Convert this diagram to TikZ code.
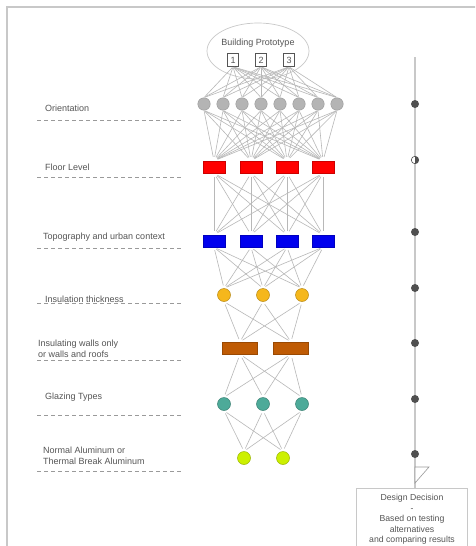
\documentclass[tikz,border=0pt]{standalone}
\usepackage{fontspec}
\setmainfont{Liberation Sans}
\usetikzlibrary{shapes.geometric}
\definecolor{framegray}{HTML}{C8C8C8}
\definecolor{linegray}{HTML}{B8B8B8}
\definecolor{txtgray}{HTML}{555555}
\definecolor{dashgray}{HTML}{9A9A9A}
\definecolor{dotgray}{HTML}{B4B4B4}
\definecolor{darkdot}{HTML}{4F4F4F}
\definecolor{redf}{HTML}{FF0000}
\definecolor{bluef}{HTML}{0000EE}
\definecolor{orangef}{HTML}{F5B71C}
\definecolor{brownf}{HTML}{BF5B04}
\definecolor{tealf}{HTML}{4DAA99}
\definecolor{limef}{HTML}{CCF000}
\tikzset{
  lbl/.style={font=\fontsize{9}{10.5}\selectfont, text=txtgray, align=left, inner sep=0pt, anchor=west},
  conn/.style={draw=linegray, line width=0.6pt, shorten <=1pt, shorten >=1pt},
  dashline/.style={draw=dashgray, line width=0.7pt, dash pattern=on 4pt off 3pt},
  gdot/.style={circle, fill=dotgray, draw=dotgray!85!black, line width=0.4pt, minimum size=12.5pt, inner sep=0pt},
  cdot/.style={circle, draw=#1!75!black, fill=#1, line width=0.5pt, minimum size=13pt, inner sep=0pt},
  rbox/.style={rectangle, draw=#1!80!black, fill=#1, line width=0.4pt, minimum width=22pt, minimum height=12pt, inner sep=0pt},
  numbox/.style={rectangle, draw=txtgray, line width=0.6pt, minimum width=11pt, minimum height=13pt, inner sep=0pt, font=\fontsize{9}{10}\selectfont, text=txtgray},
  tdot/.style={circle, fill=darkdot, minimum size=8pt, inner sep=0pt},
}
\begin{document}
\begin{tikzpicture}[x=1pt, y=-1pt]
\useasboundingbox (0,0) rectangle (475,546);
\clip (0,0) rectangle (475,546);
\fill[white] (0,0) rectangle (475,546);
% frame
\draw[framegray, line width=2pt] (7,548) -- (7,7) -- (477,7);

% prototype ellipse
\node[ellipse, draw=framegray, line width=0.7pt, minimum width=102pt, minimum height=56pt] (proto) at (258,51) {};
\node[font=\fontsize{9}{10}\selectfont, text=txtgray, inner sep=0pt] (ptitle) at (258,43) {Building Prototype};
\node[numbox] (b1) at (233,60) {1};
\node[numbox] (b2) at (261,60) {2};
\node[numbox] (b3) at (289,60) {3};

% grey circles
\foreach \i in {1,...,8} {
  \node[gdot] (g\i) at ({204+19*(\i-1)},104) {};
}
% red and blue
\foreach \i/\x in {1/214,2/251,3/287,4/323} {
  \node[rbox=redf] (r\i) at (\x,167) {};
  \node[rbox=bluef] (u\i) at (\x,241) {};
}
% orange, teal
\foreach \i/\x in {1/224,2/263,3/302} {
  \node[cdot=orangef] (o\i) at (\x,295) {};
  \node[cdot=tealf] (t\i) at (\x,404) {};
}
% brown
\node[rbox=brownf, minimum width=35pt] (w1) at (240,348) {};
\node[rbox=brownf, minimum width=35pt] (w2) at (291,348) {};
% lime
\node[cdot=limef] (l1) at (244,458) {};
\node[cdot=limef] (l2) at (283,458) {};

% connectors
\foreach \a in {1,2,3} \foreach \b in {1,...,8} \draw[conn] (b\a.south) -- (g\b.north);
\foreach \a in {1,...,8} \foreach \b in {1,...,4} \draw[conn, shorten >=4pt] (g\a.south) -- (r\b.north);
\foreach \a in {1,...,4} \foreach \b in {1,...,4} \draw[conn, shorten <=4pt, shorten >=4pt] (r\a.south) -- (u\b.north);
\foreach \a in {1,...,4} \foreach \b in {1,2,3} \draw[conn, shorten <=3pt, shorten >=3pt] (u\a.south) -- (o\b.north);
\foreach \a in {1,2,3} \foreach \b in {1,2} \draw[conn, shorten <=3pt, shorten >=3pt] (o\a.south) -- (w\b.north);
\foreach \a in {1,2} \foreach \b in {1,2,3} \draw[conn, shorten <=4pt, shorten >=3pt] (w\a.south) -- (t\b.north);
\foreach \a in {1,2,3} \foreach \b in {1,2} \draw[conn, shorten <=3pt, shorten >=3pt] (t\a.south) -- (l\b.north);

% left labels
\node[lbl] (lab1) at (45,108) {Orientation};
\coordinate (d1a) at (37,120); \coordinate (d1b) at (183,120);
\draw[dashline] (d1a) -- (d1b);
\node[lbl] (lab2) at (45,167) {Floor Level};
\coordinate (d2a) at (37,177); \coordinate (d2b) at (183,177);
\draw[dashline] (d2a) -- (d2b);
\node[lbl] (lab3) at (43,237) {Topography and urban context};
\coordinate (d3a) at (37,248); \coordinate (d3b) at (183,248);
\draw[dashline] (d3a) -- (d3b);
\coordinate (d4a) at (37,303); \coordinate (d4b) at (183,303);
\draw[dashline] (d4a) -- (d4b);
\node[lbl, fill=white, inner xsep=1pt] (lab4) at (44,299) {Insulation thickness};
\node[lbl] (lab5) at (38,349) {Insulating walls only\\or walls and roofs};
\coordinate (d5a) at (37,360); \coordinate (d5b) at (183,360);
\draw[dashline] (d5a) -- (d5b);
\node[lbl] (lab6) at (45,397) {Glazing Types};
\coordinate (d6a) at (37,415); \coordinate (d6b) at (183,415);
\draw[dashline] (d6a) -- (d6b);
\node[lbl] (lab7) at (43,456) {Normal Aluminum or\\Thermal Break Aluminum};
\coordinate (d7a) at (37,471); \coordinate (d7b) at (183,471);
\draw[dashline] (d7a) -- (d7b);

% right timeline
\node[rectangle, draw=framegray, line width=0.8pt, minimum width=111pt, minimum height=80pt, anchor=north, inner sep=0pt] (dec) at (411.5,488) {};
\node[font=\fontsize{8.7}{10.5}\selectfont, text=txtgray, align=center, anchor=north, inner sep=0pt] (dectxt) at (412,494)
  {Design Decision\\-\\Based on testing\\alternatives\\and comparing results};
\coordinate (top) at (415,57);
\draw[framegray, line width=1.5pt] (top) -- (dec.north -| top);
\coordinate (tri1) at (415,467);
\coordinate (tri2) at (429,467);
\coordinate (tri3) at (415,483);
\draw[dashgray, line width=0.6pt, fill=white] (tri1) -- (tri2) -- (tri3) -- cycle;
\foreach \i/\y in {1/104,3/232,4/288,5/343,6/399,7/454} {
  \node[tdot] (s\i) at (415,\y) {};
}
\node[circle, draw=darkdot, fill=white, line width=0.6pt, minimum size=7.5pt, inner sep=0pt] (s2) at (415,160) {};
\begin{scope}
  \clip (415,150) rectangle (425,170);
  \fill[darkdot] (s2.center) circle[radius=3.75pt];
\end{scope}
\end{tikzpicture}
\end{document}
